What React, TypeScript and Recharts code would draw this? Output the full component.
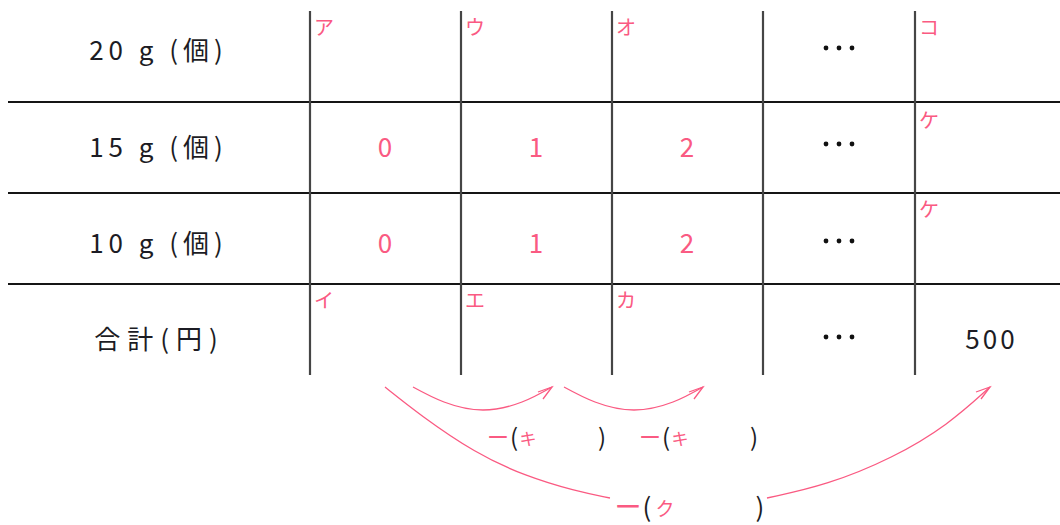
import React from 'react';
import { ComposedChart, XAxis, YAxis, ReferenceLine, Scatter, Line } from 'recharts';

// ---- content ----
const ROW_LABELS = ['20 g (個)', '15 g (個)', '10 g (個)', '合計(円)'];
const COUNTS_15 = ['0', '1', '2'];
const COUNTS_10 = ['0', '1', '2'];
const MARKS_20 = ['ア', 'ウ', 'オ'];
const MARKS_TOTAL = ['イ', 'エ', 'カ'];
const MARKS_LAST = ['コ', 'ケ', 'ケ'];
const TOTAL_YEN = '500';
const STEP_MARK = 'キ';
const WHOLE_MARK = 'ク';
const MINUS = 'ー';

// curves
const ARC_STEP_1 = [
  { x: 413, y: 387 }, { x: 444, y: 402 }, { x: 483, y: 410 }, { x: 522, y: 402 }, { x: 552, y: 387 },
];
const ARC_STEP_2 = [
  { x: 564, y: 387 }, { x: 595, y: 402 }, { x: 634, y: 410 }, { x: 673, y: 402 }, { x: 703, y: 387 },
];
const ARC_WHOLE_LEFT = [
  { x: 385, y: 387 }, { x: 420, y: 415 }, { x: 475, y: 453 }, { x: 525, y: 476 }, { x: 575, y: 491 }, { x: 610, y: 498 },
];
const ARC_WHOLE_RIGHT = [
  { x: 767, y: 498 }, { x: 827, y: 485 }, { x: 893, y: 458 }, { x: 948, y: 425 }, { x: 990, y: 387 },
];

// ---- layout ----
const W = 1060;
const H = 525;
const X_LEFT = 8;
const V_LINES = [310, 461, 612, 763, 915];
const H_LINES = [102, 193, 284];
const V_TOP = 11;
const V_BOTTOM = 375;
const LABEL_X = 156;
const COL_CENTERS = [385, 536, 687, 839, 990];
const ROW_CENTERS = [48, 145, 241, 337];
const DOT_ROWS = [48, 144, 241, 337];
const MARK_DX = 14;
const MARK_Y_TOP = [26, 119, 208];
const MARK_Y_TOTAL = 299;

const RED = '#fa5a82';
const INK = '#1c1c24';
const FONT = "'Noto Sans CJK JP', 'Noto Sans', sans-serif";

type T = { x: number; y: number; text: string; color: string; size: number; ls?: number };
const texts: T[] = [];
ROW_LABELS.forEach((l, i) =>
  texts.push({ x: LABEL_X, y: ROW_CENTERS[i], text: l, color: INK, size: 26, ls: i === 3 ? 7 : 5 })
);
COUNTS_15.forEach((v, i) => texts.push({ x: COL_CENTERS[i], y: ROW_CENTERS[1], text: v, color: RED, size: 26 }));
COUNTS_10.forEach((v, i) => texts.push({ x: COL_CENTERS[i], y: ROW_CENTERS[2], text: v, color: RED, size: 26 }));
MARKS_20.forEach((m, i) => texts.push({ x: V_LINES[i] + MARK_DX, y: MARK_Y_TOP[0], text: m, color: RED, size: 20 }));
MARKS_TOTAL.forEach((m, i) => texts.push({ x: V_LINES[i] + MARK_DX, y: MARK_Y_TOTAL, text: m, color: RED, size: 20 }));
MARKS_LAST.forEach((m, i) => texts.push({ x: V_LINES[4] + MARK_DX, y: MARK_Y_TOP[i], text: m, color: RED, size: 20 }));
texts.push({ x: COL_CENTERS[4], y: ROW_CENTERS[3], text: TOTAL_YEN, color: INK, size: 26, ls: 3 });

// bracket texts below the table
const stepGroups = [498, 650];
stepGroups.forEach((gx) => {
  texts.push({ x: gx, y: 435, text: MINUS, color: RED, size: 22 });
  texts.push({ x: gx + 16, y: 435, text: '(', color: INK, size: 24 });
  texts.push({ x: gx + 30, y: 437, text: STEP_MARK, color: RED, size: 17 });
  texts.push({ x: gx + 104, y: 435, text: ')', color: INK, size: 24 });
});
texts.push({ x: 628, y: 505, text: MINUS, color: RED, size: 27 });
texts.push({ x: 647, y: 505, text: '(', color: INK, size: 26 });
texts.push({ x: 665, y: 507, text: WHOLE_MARK, color: RED, size: 19 });
texts.push({ x: 760, y: 505, text: ')', color: INK, size: 26 });

const dots = DOT_ROWS.map((y) => ({ x: COL_CENTERS[3], y }));

const renderText = (p: any) => {
  const d = p.payload as T;
  return (
    <text
      x={p.cx + (d.ls ? d.ls / 2 : 0)}
      y={p.cy}
      textAnchor="middle"
      dominantBaseline="central"
      fontSize={d.size}
      fill={d.color}
      fontFamily={FONT}
      letterSpacing={d.ls || 0}
    >
      {d.text}
    </text>
  );
};

const renderDots = (p: any) => (
  <g>
    {[-13, 0, 13].map((dx) => (
      <circle key={dx} cx={p.cx + dx} cy={p.cy} r={2.4} fill="#111" />
    ))}
  </g>
);

const arrowDot = (len: number) => (p: any) => {
  if (p.index !== len - 1) return <g key={p.index} />;
  const { cx, cy } = p;
  return (
    <path
      key={p.index}
      d={`M${cx - 14},${cy + 5} L${cx},${cy} L${cx - 9},${cy + 12}`}
      stroke={RED}
      strokeWidth={1.3}
      fill="none"
    />
  );
};

const curves = [ARC_STEP_1, ARC_STEP_2, ARC_WHOLE_LEFT, ARC_WHOLE_RIGHT];
const arrowed = [true, true, false, true];
const curveTypes: any[] = ['natural', 'natural', 'basis', 'basis'];

export default function App() {
  return (
    <div style={{ position: 'absolute', left: 0, top: 0, width: W, height: H, background: '#fff' }}>
      <ComposedChart width={W} height={H} margin={{ top: 0, right: 0, bottom: 0, left: 0 }}>
        <XAxis type="number" dataKey="x" domain={[0, W]} hide allowDataOverflow />
        <YAxis type="number" dataKey="y" domain={[0, H]} reversed hide allowDataOverflow />
        {H_LINES.map((y) => (
          <ReferenceLine
            key={'h' + y}
            segment={[{ x: X_LEFT, y }, { x: W, y }]}
            stroke="#151515"
            strokeWidth={2}
            ifOverflow="visible"
          />
        ))}
        {V_LINES.map((x) => (
          <ReferenceLine
            key={'v' + x}
            segment={[{ x, y: V_TOP }, { x, y: V_BOTTOM }]}
            stroke="#454545"
            strokeWidth={2.2}
            ifOverflow="visible"
          />
        ))}
        {curves.map((c, i) => (
          <Line
            key={'c' + i}
            data={c}
            dataKey="y"
            type={curveTypes[i]}
            stroke={RED}
            strokeWidth={1.3}
            dot={arrowed[i] ? arrowDot(c.length) : false}
            activeDot={false}
            isAnimationActive={false}
          />
        ))}
        <Scatter data={dots} dataKey="y" shape={renderDots} isAnimationActive={false} />
        <Scatter data={texts} dataKey="y" shape={renderText} isAnimationActive={false} />
      </ComposedChart>
    </div>
  );
}
